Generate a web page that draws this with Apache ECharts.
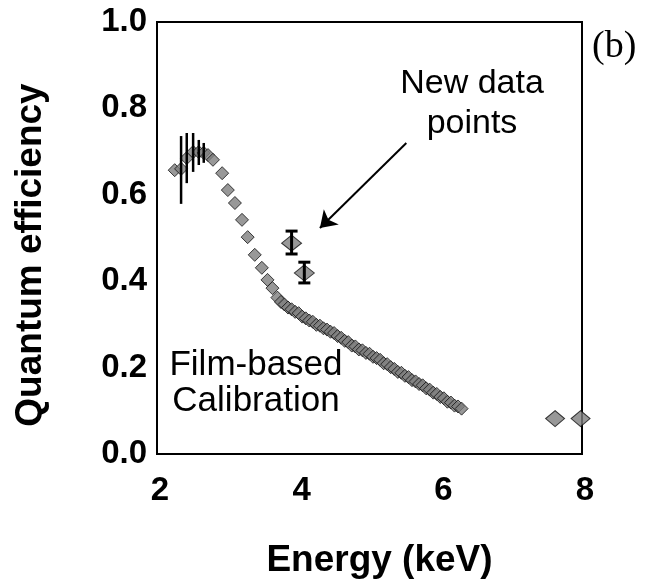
<!DOCTYPE html>
<html>
<head>
<meta charset="utf-8">
<script src="https://cdn.jsdelivr.net/npm/echarts@6/dist/echarts.min.js"></script>
<style>
  html, body { margin: 0; padding: 0; background: #fff; }
  #chart { width: 657px; height: 588px; }
</style>
</head>
<body>
<div id="chart"></div>
<script>
// tick labels
const xTickLabels = { 2: '2', 4: '4', 6: '6', 8: '8' };
const yTickLabels = ['0.0', '0.2', '0.4', '0.6', '0.8', '1.0'];

// film-based calibration points (keV, QE)
const filmX = [
  2.25, 2.34, 2.42, 2.51, 2.59, 2.66, 2.72, 2.79, 2.92, 3.00, 3.10, 3.20, 3.28, 3.38, 3.48, 3.56, 3.63,
  3.70, 3.75, 3.80, 3.85, 3.90, 3.95, 4.00, 4.05, 4.10, 4.15, 4.20, 4.25, 4.30, 4.35, 4.40, 4.45,
  4.50, 4.55, 4.60, 4.65, 4.70, 4.75, 4.80, 4.85, 4.90, 4.95, 5.00, 5.05, 5.10, 5.15, 5.20, 5.25,
  5.30, 5.35, 5.40, 5.45, 5.50, 5.55, 5.60, 5.65, 5.70, 5.75, 5.80, 5.85, 5.90, 5.95, 6.00, 6.05,
  6.10, 6.15, 6.20, 6.25, 6.30
];
const filmY = [
  0.657, 0.660, 0.685, 0.699, 0.699, 0.697, 0.692, 0.681, 0.650, 0.611, 0.581, 0.542, 0.502, 0.461, 0.431, 0.403, 0.384,
  0.362, 0.352, 0.346, 0.339, 0.335, 0.329, 0.326, 0.318, 0.314, 0.309, 0.306, 0.299, 0.297, 0.291, 0.288, 0.283,
  0.280, 0.273, 0.269, 0.262, 0.259, 0.251, 0.249, 0.242, 0.240, 0.234, 0.232, 0.225, 0.222, 0.218, 0.210, 0.208,
  0.201, 0.197, 0.190, 0.188, 0.181, 0.178, 0.171, 0.168, 0.162, 0.159, 0.152, 0.149, 0.142, 0.139, 0.132, 0.129,
  0.121, 0.119, 0.112, 0.110, 0.105
];

// error bars on the low-energy film points
const filmErrX = [2.34, 2.42, 2.51, 2.59, 2.66];
const filmErrLow = [0.579, 0.627, 0.653, 0.669, 0.674];
const filmErrHigh = [0.736, 0.743, 0.743, 0.727, 0.720];

// new data points
const newX = [3.90, 4.08];
const newY = [0.488, 0.419];
const newLow = [0.463, 0.396];
const newHigh = [0.516, 0.444];

// high-energy points near 8 keV
const highX = [7.62, 7.98];
const highY = [0.082, 0.082];

const pointColor = '#7e7e7e';
const pointBorder = '#111';

const errorBarItem = (capHalf, width) => (params, api) => {
  const x = api.value(0);
  const lo = api.coord([x, api.value(1)]);
  const hi = api.coord([x, api.value(2)]);
  const style = { stroke: '#000', lineWidth: width };
  const children = [
    { type: 'line', shape: { x1: lo[0], y1: lo[1], x2: hi[0], y2: hi[1] }, style },
  ];
  if (capHalf) {
    children.push({ type: 'line', shape: { x1: lo[0] - capHalf, y1: lo[1], x2: lo[0] + capHalf, y2: lo[1] }, style });
    children.push({ type: 'line', shape: { x1: hi[0] - capHalf, y1: hi[1], x2: hi[0] + capHalf, y2: hi[1] }, style });
  }
  return { type: 'group', children };
};

const chart = echarts.init(document.getElementById('chart'));

const option = {
  animation: false,
  backgroundColor: '#fff',
  grid: {
    left: 157,
    top: 22,
    right: 75,
    bottom: 134,
    show: true,
    borderColor: '#000',
    borderWidth: 2,
  },
  xAxis: {
    type: 'value',
    min: 2,
    max: 8,
    interval: 2,
    name: 'Energy (keV)',
    nameLocation: 'middle',
    nameGap: 88,
    nameTextStyle: {
      fontFamily: 'Liberation Sans', fontWeight: 'bold', fontSize: 37, color: '#000',
      padding: [0, 0, 0, 20],
    },
    axisLine: { lineStyle: { color: '#000', width: 2 } },
    axisTick: { show: false },
    splitLine: { show: false },
    axisLabel: {
      margin: 20,
      fontFamily: 'Liberation Sans',
      fontWeight: 'bold',
      fontSize: 33,
      color: '#000',
      padding: [0, 0, 0, 6],
      formatter: (v) => xTickLabels[v] || '',
    },
  },
  yAxis: {
    type: 'value',
    min: 0,
    max: 1,
    interval: 0.2,
    name: 'Quantum efficiency',
    nameLocation: 'middle',
    nameGap: 108,
    nameTextStyle: {
      fontFamily: 'Liberation Sans', fontWeight: 'bold', fontSize: 37, color: '#000',
      padding: [0, 34, 0, 0],
    },
    axisLine: { lineStyle: { color: '#000', width: 2 } },
    axisTick: { show: false },
    splitLine: { show: false },
    axisLabel: {
      margin: 10,
      fontFamily: 'Liberation Sans',
      fontWeight: 'bold',
      fontSize: 33,
      color: '#000',
      padding: [12, 0, 0, 0],
      formatter: (v) => yTickLabels[Math.round(v * 5)],
    },
  },
  series: [
    {
      type: 'scatter',
      symbol: 'diamond',
      symbolSize: [13, 13],
      itemStyle: { color: pointColor, borderColor: pointBorder, borderWidth: 1 },
      data: filmX.map((x, i) => [x, filmY[i]]),
    },
    {
      type: 'custom',
      renderItem: errorBarItem(0, 2.5),
      data: filmErrX.map((x, i) => [x, filmErrLow[i], filmErrHigh[i]]),
      z: 3,
    },
    {
      type: 'scatter',
      symbol: 'diamond',
      symbolSize: [20, 16],
      itemStyle: { color: pointColor, borderColor: pointBorder, borderWidth: 1 },
      data: newX.map((x, i) => [x, newY[i]]),
      markLine: {
        silent: true,
        symbol: ['none', 'arrow'],
        symbolSize: 16,
        label: { show: false },
        lineStyle: { color: '#000', width: 2, type: 'solid' },
        data: [[{ coord: [5.52, 0.72] }, { coord: [4.30, 0.523] }]],
      },
    },
    {
      type: 'custom',
      renderItem: errorBarItem(6, 3),
      data: newX.map((x, i) => [x, newLow[i], newHigh[i]]),
      z: 3,
    },
    {
      type: 'scatter',
      symbol: 'diamond',
      symbolSize: [19, 16],
      itemStyle: { color: pointColor, borderColor: pointBorder, borderWidth: 1 },
      data: highX.map((x, i) => [x, highY[i]]),
    },
  ],
  graphic: [
    {
      type: 'text', x: 472, y: 64,
      style: {
        text: 'New data\npoints', align: 'center', verticalAlign: 'top',
        fontFamily: 'Liberation Sans', fontSize: 34, lineHeight: 40, fill: '#000',
      },
    },
    {
      type: 'text', x: 256, y: 347,
      style: {
        text: 'Film-based\nCalibration', align: 'center', verticalAlign: 'top',
        fontFamily: 'Liberation Sans', fontSize: 35, lineHeight: 36, fill: '#000',
      },
    },
    {
      type: 'text', x: 592, y: 28,
      style: { text: '(b)', fontFamily: 'Liberation Serif', fontSize: 38, fill: '#000' },
    },
  ],
};

chart.setOption(option);
</script>
</body>
</html>
